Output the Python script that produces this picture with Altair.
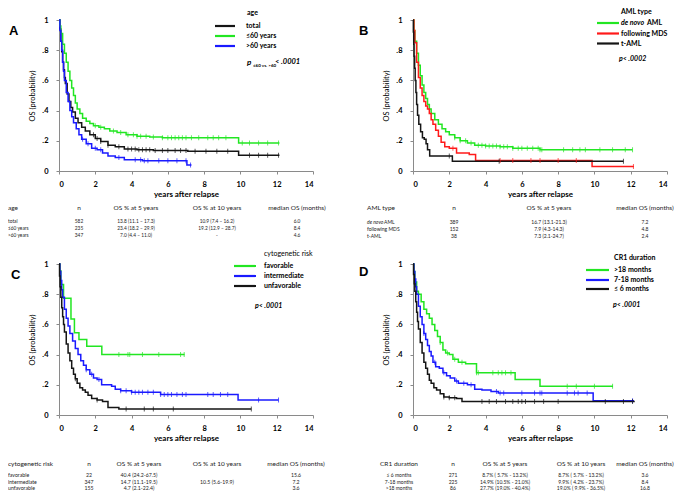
import altair as alt
import numpy as np
import pandas as pd

# ---------------- Panel A : age ----------------
A_names = ["total", "≤60 years", ">60 years"]
A_colors = ["#151515", "#22e622", "#1a1aff"]
A_total_t = [0, .05, .1, .15, .2, .25, .3, .35, .45, .55, .65, .75, .9, 1.05, 1.25, 1.45, 1.7, 2.0, 2.3, 2.7, 3.1, 3.6, 4.3, 5.2, 7.1, 9.9, 12.15]
A_total_s = [1, .94, .86, .79, .72, .67, .62, .58, .51, .46, .42, .39, .35, .32, .29, .265, .24, .215, .195, .17, .16, .145, .14, .135, .13, .105, .105]
A_total_c = [1.9, 2.1, 2.3, 2.7, 3.3, 3.8, 4.0, 4.2, 4.4, 4.6, 4.8, 5.0, 5.3, 5.7, 6.0, 6.4, 6.7, 7.0, 7.5, 8.1, 8.7, 9.3, 10.5, 11.0, 11.5, 12.1]
A_young_t = [0, .05, .1, .2, .3, .4, .5, .6, .7, .8, .9, 1.0, 1.15, 1.3, 1.5, 1.7, 1.9, 2.2, 2.5, 2.8, 3.2, 3.7, 4.3, 5.0, 5.7, 9.9, 12.15]
A_young_s = [1, .96, .91, .84, .78, .72, .66, .6, .55, .5, .45, .41, .38, .35, .33, .315, .30, .29, .28, .265, .255, .24, .23, .225, .22, .185, .185]
A_young_c = [2.0, 2.3, 3.0, 3.4, 3.8, 4.1, 4.3, 4.5, 4.8, 5.2, 5.7, 6.0, 6.2, 6.4, 6.6, 6.8, 7.0, 7.3, 7.7, 8.2, 8.5, 8.8, 9.2, 10.1, 10.5, 11.0, 11.5, 12.1]
A_old_t = [0, .05, .1, .15, .2, .25, .3, .4, .5, .6, .7, .8, .95, 1.1, 1.25, 1.5, 1.8, 2.1, 2.4, 2.7, 3.1, 3.6, 4.6, 7.05, 7.3]
A_old_s = [1, .93, .86, .8, .72, .66, .6, .52, .46, .4, .36, .32, .28, .24, .21, .18, .15, .14, .12, .10, .09, .075, .068, .04, .04]
A_old_c = [1.3, 1.6, 2.0, 2.3, 3.3, 4.2, 4.5, 4.7, 4.9, 5.5, 6.0, 6.5, 7.0, 7.25]
A_header = ["age", "n", "OS % at 5 years", "OS % at 10 years", "median OS (months)"]
A_rows = [["total", "582", "13.8 (11.1 – 17.3)", "10.9 (7.4 – 16.2)", "6.0"],
          ["≤60 years", "235", "23.4 (18.2 – 29.9)", "19.2 (12.9 – 28.7)", "8.4"],
          [">60 years", "347", "7.0 (4.4 – 11.0)", "-", "4.6"]]

# ---------------- Panel B : AML type ----------------
B_names = ["de novo AML", "following MDS", "t-AML"]
B_colors = ["#22e622", "#ff1a1a", "#151515"]
B_denovo_t = [0, .05, .1, .2, .3, .4, .5, .6, .7, .8, .9, 1.0, 1.2, 1.4, 1.6, 1.8, 2.0, 2.3, 2.6, 3.0, 3.4, 4.0, 4.8, 5.5, 7.0, 12.1]
B_denovo_s = [1, .93, .86, .78, .7, .63, .57, .52, .48, .44, .41, .38, .34, .31, .28, .26, .24, .22, .2, .185, .17, .165, .16, .15, .14, .14]
B_denovo_c = [2.3, 2.6, 2.9, 3.2, 3.6, 3.8, 4.0, 4.2, 4.4, 4.6, 4.8, 5.0, 5.2, 5.5, 5.8, 6.0, 6.3, 6.6, 6.9, 7.0, 7.1, 8.3, 8.8, 9.2, 9.5, 10.3, 11.0, 11.7, 12.1]
B_mds_t = [0, .05, .1, .2, .3, .4, .5, .6, .7, .8, .9, 1.0, 1.1, 1.25, 1.4, 1.55, 1.75, 2.0, 2.4, 3.1, 3.45, 9.87, 12.17]
B_mds_s = [1, .93, .85, .72, .62, .55, .5, .46, .43, .41, .38, .34, .31, .27, .23, .19, .16, .15, .12, .11, .07, .03, .03]
B_mds_c = [2.2, 4.8, 5.5, 6.5, 7.0, 8.0, 9.0, 12.15]
B_taml_t = [0, .02, .04, .06, .09, .12, .16, .2, .25, .32, .42, .52, .62, .72, .8, .92, 2.17, 11.6]
B_taml_s = [1, .92, .84, .76, .68, .6, .52, .44, .37, .31, .26, .22, .21, .18, .14, .1, .065, .065]
B_taml_c = [2.0, 4.75, 11.6]
B_header = ["AML  type", "n", "OS % at 5 years", "median OS (months)"]
B_rows = [["de novo AML", "389", "16.7 (13.1-21.3)", "7.2"],
          ["following MDS", "152", "7.9 (4.3-14.3)", "4.8"],
          ["t-AML", "38", "7.3 (2.1-24.7)", "2.4"]]

# ---------------- Panel C : cytogenetic risk ----------------
C_names = ["favorable", "intermediate", "unfavorable"]
C_colors = ["#22e622", "#1a1aff", "#151515"]
C_fav_t = [0, .05, .1, .25, .66, .85, 1.1, 1.53, 2.36, 6.92]
C_fav_s = [1, .955, .864, .773, .636, .545, .5, .455, .40, .40]
C_fav_c = [3.3, 3.8, 3.9, 4.6, 5.5, 6.7, 6.9]
C_int_t = [0, .05, .1, .15, .2, .3, .4, .5, .6, .75, .9, 1.05, 1.2, 1.35, 1.5, 1.7, 1.9, 2.1, 2.35, 2.9, 3.1, 3.4, 4.0, 5.6, 9.87, 12.1]
C_int_s = [1, .95, .89, .83, .78, .7, .64, .59, .54, .49, .44, .4, .36, .33, .3, .27, .245, .235, .2, .19, .17, .16, .15, .135, .10, .10]
C_int_c = [1.5, 1.8, 2.2, 3.4, 3.7, 4.0, 4.2, 4.4, 4.6, 4.9, 5.2, 5.6, 5.8, 6.0, 6.2, 6.5, 6.8, 7.0, 8.2, 8.5, 8.9, 9.3, 11.0, 12.1]
C_unf_t = [0, .03, .06, .1, .15, .2, .25, .3, .4, .5, .6, .7, .8, .9, 1.0, 1.15, 1.3, 1.45, 1.6, 1.8, 2.1, 2.4, 2.7, 3.3, 10.6]
C_unf_s = [1, .92, .85, .78, .71, .65, .6, .55, .47, .41, .36, .31, .27, .24, .21, .18, .165, .15, .13, .11, .1, .09, .05, .04, .04]
C_unf_c = [.9, 2.1, 3.7, 4.7, 5.2, 6.3, 10.6]
C_header = ["cytogenetic risk", "n", "OS % at 5 years", "OS % at 10 years", "median OS (months)"]
C_rows = [["favorable", "22", "40.4 (24.2-67.5)", "", "15.6"],
          ["intermediate", "347", "14.7 (11.1-19.5)", "10.5 (5.6-19.9)", "7.2"],
          ["unfavorable", "155", "4.7 (2.1-22.4)", "", "3.6"]]

# ---------------- Panel D : CR1 duration ----------------
D_names = [">18 months", "7-18 months", "≤ 6 months"]
D_colors = ["#22e622", "#1a1aff", "#151515"]
D_long_t = [0, .05, .1, .2, .3, .45, .6, .75, .9, 1.05, 1.2, 1.35, 1.5, 1.65, 1.8, 2.0, 2.2, 2.5, 2.9, 3.5, 5.63, 7.0, 11.02]
D_long_s = [1, .95, .88, .82, .8, .75, .7, .67, .64, .6, .56, .52, .48, .43, .41, .4, .37, .35, .34, .28, .235, .19, .19]
D_long_c = [1.5, 1.9, 2.3, 2.7, 3.5, 3.6, 4.4, 4.7, 4.9, 5.1, 5.4, 8.5, 9.0, 10.0, 11.0]
D_mid_t = [0, .05, .1, .15, .2, .3, .4, .5, .6, .7, .8, .9, 1.0, 1.1, 1.25, 1.45, 1.65, 1.85, 2.05, 2.3, 2.5, 3.0, 3.4, 3.8, 4.3, 4.7, 9.93, 12.18]
D_mid_s = [1, .95, .9, .85, .8, .72, .65, .6, .54, .5, .46, .42, .39, .35, .32, .31, .28, .26, .245, .225, .21, .2, .17, .165, .155, .145, .095, .095]
D_mid_c = [.6, 1.2, 1.7, 2.4, 2.8, 3.2, 4.6, 4.8, 5.0, 6.0, 6.7, 7.0, 7.1, 8.5, 8.9, 9.1, 9.6, 12.1]
D_short_t = [0, .03, .07, .1, .15, .2, .25, .3, .4, .5, .6, .7, .8, .9, 1.0, 1.15, 1.3, 1.5, 1.7, 2.0, 2.4, 2.7, 12.18]
D_short_s = [1, .93, .87, .82, .75, .68, .62, .57, .48, .41, .35, .31, .27, .23, .21, .18, .165, .14, .12, .115, .11, .09, .085]
D_short_c = [1.7, 2.0, 2.3, 3.8, 4.2, 4.6, 5.1, 5.5, 5.8, 6.0, 6.2, 6.7, 7.2, 8.0, 10.6, 11.6, 12.1]
D_header = ["CR1 duration", "n", "OS % at 5 years", "OS % at 10 years", "median OS (months)"]
D_rows = [["≤ 6 months", "271", "8.7% ( 5.7% - 13.2%)", "8.7% ( 5.7% - 13.2%)", "3.6"],
          ["7-18 months", "225", "14.9% (10.5% - 21.0%)", "9.9% ( 4.2% - 23.7%)", "8.4"],
          [">18 months", "86", "27.7% (19.0% - 40.4%)", "19.0% ( 9.9% - 36.5%)", "16.8"]]

# ---------------- layout ----------------
W, H = 254, 151
FONT = "Lato"
AXIS_GRAY = "#8a8a8a"
dummy = pd.DataFrame({"k": [0]})


def txt(x, y, s, size=7, weight="normal", style="normal", align="left", font=FONT, color="black"):
    return alt.Chart(dummy).mark_text(
        align=align, baseline="middle", fontSize=size, fontWeight=weight,
        fontStyle=style, font=font, color=color
    ).encode(x=alt.value(x), y=alt.value(y), text=alt.value(s))


def step_at(ts, ss, t):
    i = int(np.searchsorted(np.array(ts), t, side="right")) - 1
    return ss[max(i, 0)]


def quadrant(key, names, colors, curves, censors, letter, letter_pos,
             leg_title, leg_title_pos, leg_title_weight, leg_x, leg_y, lab_x,
             p_layers, header, rows, col_x, col_align, y_head, y_rows,
             head_size, row_size, de_novo=False):
    gf = "g" + key
    line_df = pd.concat([pd.DataFrame({"t": t, "s": s, gf: n})
                         for n, (t, s) in zip(names, curves)], ignore_index=True)
    cen_df = pd.concat([pd.DataFrame({"t": c, "s": [step_at(t, s, v) for v in c], gf: n})
                        for n, (t, s), c in zip(names, curves, censors)], ignore_index=True)
    color = alt.Color(gf + ":N", scale=alt.Scale(domain=names, range=colors), legend=None)
    x = alt.X("t:Q", scale=alt.Scale(domain=[0, 14], nice=False),
              axis=alt.Axis(values=[0, 2, 4, 6, 8, 10, 12, 14], title="years after relapse",
                            grid=False, domainColor=AXIS_GRAY, tickColor=AXIS_GRAY,
                            tickSize=3, labelPadding=6, labelFont=FONT, labelFontSize=7.5,
                            labelFontWeight="bold", labelColor="black", titleFont=FONT,
                            titleFontSize=8, titleFontWeight="bold", titlePadding=3,
                            titleColor="black", labelOverlap=False))
    y = alt.Y("s:Q", scale=alt.Scale(domain=[0, 1], nice=False),
              axis=alt.Axis(values=[0, 0.2, 0.4, 0.6, 0.8, 1], title="OS (probability)",
                            labelExpr="datum.value == 0 ? '0' : datum.value == 1 ? '1' : '.' + format(datum.value * 10, 'd')",
                            grid=False, domainColor=AXIS_GRAY, tickColor=AXIS_GRAY,
                            tickSize=3, labelPadding=8, labelFont=FONT, labelFontSize=7.5,
                            labelFontWeight="bold", labelColor="black", titleFont=FONT,
                            titleFontSize=7.5, titleFontWeight="normal", titlePadding=5,
                            titleColor="black", labelOverlap=False))
    layers = [
        alt.Chart(line_df).mark_line(interpolate="step-after", strokeWidth=1.5).encode(x=x, y=y, color=color),
        alt.Chart(cen_df).mark_tick(orient="vertical", size=5, thickness=1).encode(x=x, y=y, color=color),
    ]
    layers.append(txt(letter_pos[0], letter_pos[1], letter, size=13, weight="bold", font="Liberation Sans"))
    layers.append(txt(leg_title_pos[0], leg_title_pos[1], leg_title, size=7, weight=leg_title_weight))
    for i, (n, c) in enumerate(zip(names, colors)):
        layers.append(alt.Chart(dummy).mark_rule(strokeWidth=2.2, color=c).encode(
            x=alt.value(leg_x[0]), x2=alt.value(leg_x[1]), y=alt.value(leg_y[i])))
        if de_novo and i == 0:
            layers.append(txt(lab_x, leg_y[i], "de novo", size=7, weight="bold", style="italic"))
            layers.append(txt(lab_x + 26, leg_y[i], "AML", size=7, weight="bold"))
        else:
            layers.append(txt(lab_x, leg_y[i], n, size=7, weight="bold"))
    layers.extend(p_layers)
    for j, h in enumerate(header):
        layers.append(txt(col_x[j], y_head, h, size=head_size, align=col_align[j], color="#222222"))
    for r, row in enumerate(rows):
        for j, cell in enumerate(row):
            if not cell:
                continue
            if de_novo and j == 0 and cell.startswith("de novo"):
                layers.append(txt(col_x[j], y_rows[r], "de novo", size=row_size, style="italic",
                                  align=col_align[j], color="#222222"))
                layers.append(txt(col_x[j] + 17, y_rows[r], "AML", size=row_size,
                                  align=col_align[j], color="#222222"))
            else:
                layers.append(txt(col_x[j], y_rows[r], cell, size=row_size,
                                  align=col_align[j], color="#222222"))
    return alt.layer(*layers).properties(width=W, height=H)


pA = [txt(188, 43, "p", size=8, weight="bold", style="italic"),
      txt(194, 46, "≤60 vs. >60", size=4.5, weight="bold"),
      txt(216, 42, "< .0001", size=7.5, weight="bold", style="italic")]
qA = quadrant("A", A_names, A_colors,
              [(A_total_t, A_total_s), (A_young_t, A_young_s), (A_old_t, A_old_s)],
              [A_total_c, A_young_c, A_old_c],
              "A", (-50, 11), "age", (188, -7), "bold", (156, 176), [6, 16, 26], 187,
              pA, A_header, A_rows, [-51, 20, 77, 158, 238],
              ["left", "center", "center", "center", "center"], 188, [202, 209, 216], 6.5, 4.8)

pB = [txt(206, 39, "p< .0002", size=7, weight="bold", style="italic")]
qB = quadrant("B", B_names, B_colors,
              [(B_denovo_t, B_denovo_s), (B_mds_t, B_mds_s), (B_taml_t, B_taml_s)],
              [B_denovo_c, B_mds_c, B_taml_c],
              "B", (-54, 11), "AML  type", (208, -8), "bold", (184, 206), [3, 13.5, 23.5], 208,
              pB, B_header, B_rows, [-46, 41, 136, 232],
              ["left", "center", "center", "center"], 188, [202, 209, 216], 6.5, 5, de_novo=True)

pC = [txt(196, 42, "p< .0001", size=7, weight="bold", style="italic")]
qC = quadrant("C", C_names, C_colors,
              [(C_fav_t, C_fav_s), (C_int_t, C_int_s), (C_unf_t, C_unf_s)],
              [C_fav_c, C_int_c, C_unf_c],
              "C", (-48, 11), "cytogenetic risk", (205, -10), "normal", (175, 197), [2, 12, 22], 205,
              pC, C_header, C_rows, [-51, 30, 80, 158, 237],
              ["left", "center", "center", "center", "center"], 199.5, [211, 217.5, 224], 6.5, 5.2)

pD = [txt(200, 41, "p< .0001", size=7, weight="bold", style="italic")]
qD = quadrant("D", D_names, D_colors,
              [(D_long_t, D_long_s), (D_mid_t, D_mid_s), (D_short_t, D_short_s)],
              [D_long_c, D_mid_c, D_short_c],
              "D", (-54, 8), "CR1 duration", (201, -6), "bold", (173, 196), [6, 16, 25], 201,
              pD, D_header, D_rows, [-14, 40, 92, 168, 232],
              ["center", "center", "center", "center", "center"], 199.5, [211, 217.5, 224], 6.5, 5)

chart = alt.concat(qA, qB, qC, qD, columns=2, spacing={"row": 93, "column": 100},
                   bounds="flush").resolve_scale(color="independent").properties(
    padding=0, background="white").configure_view(stroke=None).configure_axis(labelOverlap=False)

chart.save("out.html", embed_options={"renderer": "svg", "actions": False})
